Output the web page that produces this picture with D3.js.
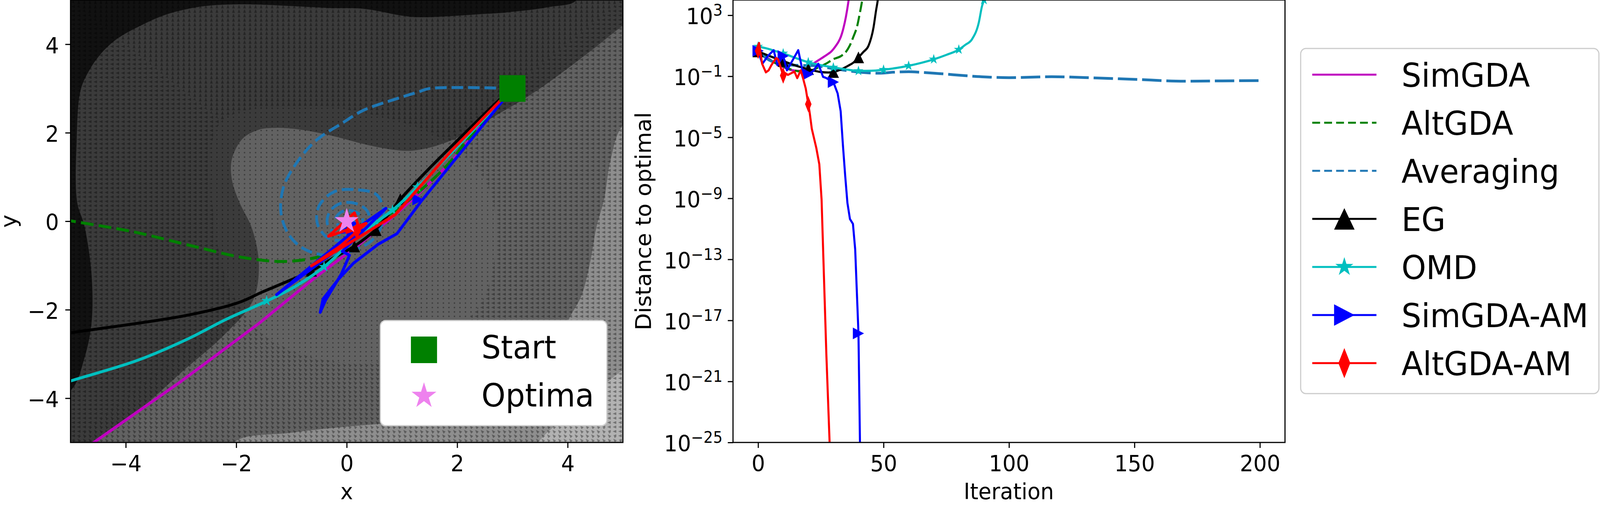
<!DOCTYPE html>
<html>
<head>
<meta charset="utf-8">
<script src="https://cdn.jsdelivr.net/npm/d3@7/dist/d3.min.js"></script>
<style>
  html, body { margin: 0; padding: 0; background: #fff; overflow: hidden; }
  #chart svg { display: block; width: 100vw; height: 100vh; }
  svg text { font-family: "DejaVu Sans", sans-serif; }
</style>
</head>
<body>
<div id="chart"></div>
<script>
// ---------- left panel: shaded contour zones (x, y)
const darkZone = [[-5.6,5.6],[4.2,5.6],[4.16,5],[3.66,4.84],[2.9,4.72],[2.41,4.68],[1.78,4.63],[1.16,4.62],[0.32,4.8],[-0.33,4.82],[-1.44,4.89],[-2.04,4.9],[-2.65,4.85],[-3.25,4.68],[-3.7,4.44],[-4.16,4.12],[-4.46,3.77],[-4.67,3.39],[-4.82,2.95],[-4.89,1.78],[-4.88,0.43],[-4.75,-0.1],[-4.62,-1.2],[-4.62,-2.3],[-4.75,-3.1],[-4.98,-3.8],[-5.6,-4.2]];
const midZone = [[-4.75,-5.6],[-4.52,-5],[-3.6,-4.1],[-2.97,-3.39],[-2.22,-2.57],[-1.7,-1.8],[-1.59,-0.99],[-1.71,-0.18],[-1.95,0.45],[-2.08,0.95],[-2.08,1.4],[-1.89,1.86],[-1.59,2.07],[-1.29,2.11],[-0.84,2.07],[-0.33,1.95],[0.36,1.73],[0.88,1.61],[1.22,1.6],[1.66,1.72],[2.16,1.98],[2.66,2.36],[3.23,2.78],[3.66,3.14],[4.41,3.84],[5,4.42],[5.6,4.9],[5.6,-5.6]];
const lightZone = [[-2.1,-5.6],[-2.03,-5],[-1,-4.78],[0.32,-4.61],[1.5,-4.52],[2.51,-4.46],[3.2,-4.2],[3.6,-3.5],[3.85,-2.7],[4.03,-2.19],[4.25,-1.68],[4.41,-0.91],[4.52,-0.14],[4.66,0.5],[4.78,1.4],[5,2.17],[5.6,2.6],[5.6,-5.6]];
const paleZone = [[3.3,-5.6],[3.47,-5],[4.2,-4.2],[5,-3.37],[5.6,-3.0],[5.6,-5.6]];
// where the arrows of the field shrink to dots
const calmZone = [[-2.3,2.2],[-1,2.6],[0.5,2.4],[1.8,1.8],[2.55,0.8],[2.7,-0.5],[2.45,-1.8],[1.6,-2.8],[0.2,-3.2],[-1.2,-2.8],[-2.0,-1.8],[-2.4,0]];
// field direction sectors: [polygon, arrow heading in degrees]
const fieldSectors = [
  [[[0,0],[-6.5,6.5],[6.5,6.5]], 0],
  [[[0,0],[-6.5,-6.5],[-6.5,6.5]], -90],
  [[[0,0],[6.5,6.5],[6.5,-6.5]], -90],
  [[[0,0],[-6.5,-6.5],[6.5,-6.5]], -45]
];

// ---------- left panel: trajectories (x, y)
const startPoint = [3, 3];
const optimaPoint = [0, 0];
const simgdaPath = [[3,3],[2.4,2.1],[1.88,1.32],[1.3,0.62],[0.88,0.15],[0.2,-0.55],[-0.57,-1.27],[-1.59,-2.31],[-3.0,-3.62],[-4.58,-5.0],[-5.6,-5.9]];
const altgdaPath = [[3,3],[2.19,1.85],[1.86,1.32],[1.2,0.55],[0.6,0.0],[0.1,-0.45],[-0.3,-0.7],[-0.56,-0.82],[-1.15,-0.91],[-1.88,-0.82],[-2.76,-0.57],[-3.86,-0.24],[-5.0,0.01],[-5.6,0.15]];
const avgPath = [[3,3],[1.5,3.0],[1.29,2.92],[0.88,2.76],[0.29,2.5],[-0.09,2.21],[-0.57,1.81],[-0.95,1.24],[-1.15,0.75],[-1.19,0.19],[-1.05,-0.3],[-0.78,-0.62],[-0.36,-0.77],[0.12,-0.66],[0.5,-0.38],[0.67,0.11],[0.55,0.59],[0.19,0.71],[-0.22,0.67],[-0.5,0.35],[-0.53,-0.06],[-0.33,-0.38],[0.02,-0.42],[0.36,-0.22],[0.39,0.19],[0.19,0.39],[-0.09,0.41],[-0.3,0.23],[-0.35,-0.06],[-0.19,-0.28],[0.05,-0.32],[0.26,-0.18],[0.28,0.08],[0.14,0.22],[-0.08,0.22],[-0.2,0.06],[-0.13,-0.12],[0.03,-0.16],[0.14,-0.04],[0.07,0.08],[-0.03,0.06],[0,0]];
const egPath = [[3,3],[2.76,2.74],[2.09,1.93],[1.5,1.2],[0.98,0.51],[0.53,-0.18],[0.13,-0.57],[-0.2,-0.8],[-0.64,-1.12],[-1.15,-1.4],[-1.53,-1.6],[-1.96,-1.84],[-2.91,-2.13],[-5.0,-2.52],[-6,-2.7]];
const omdPath = [[3,3],[2.22,1.97],[1.28,0.77],[0.83,0.25],[0.535,-0.02],[0.1,-0.45],[-0.41,-1.03],[-0.9,-1.45],[-1.44,-1.8],[-2.17,-2.21],[-2.91,-2.68],[-3.8,-3.15],[-5.0,-3.61],[-6,-4.0]];
const simamPath = [[3,3],[2.81,2.7],[1.36,0.47],[0.91,-0.28],[0.57,-0.52],[0.12,-0.95],[-0.15,-1.31],[-0.43,-1.76],[-0.48,-2.06],[-0.38,-1.78],[-0.1,-1.2],[0.05,-0.77],[-0.08,-0.68],[0.71,0.29],[0.2,-0.15],[-1.27,-1.66],[-0.5,-0.95],[0.3,-0.2],[-0.1,-0.25],[0.15,-0.05],[0,0]];
const altamPath = [[3,3],[2.76,2.7],[1.9,1.6],[0.88,0.15],[0.3,-0.3],[-0.64,-1.01],[-0.1,-0.55],[0.35,-0.05],[-0.33,-0.34],[0.14,0.19],[0.22,-0.15],[0.0,-0.25],[0.08,0.02],[0,0]];
const egMarks = [[0.97,0.5],[0.53,-0.2],[0.14,-0.57],[-0.64,-1.12]];
const omdMarks = [[1.28,0.77],[0.83,0.25],[0.535,-0.02],[-0.41,-1.03],[-1.45,-1.8]];
const simamMarks = [[1.29,0.49],[0.1,-0.3]];
const altamMarks = [[0.18,-0.22]];

// ---------- right panel: [iteration, log10(distance to optimal)]
const simgdaHist = [[0,0.63],[3,0.3],[6,-0.05],[10,-0.4],[13,-0.58],[17,-0.65],[20,-0.45],[22,-0.18],[25,0.15],[28,0.48],[29,0.6],[30,0.78],[31,1.0],[32,1.25],[33,1.6],[34,2.15],[35,2.9],[36,3.9],[37,5.2]];
const altgdaHist = [[0,0.63],[3,0.3],[6,-0.05],[10,-0.35],[14,-0.6],[18,-0.7],[21,-0.62],[24,-0.42],[27,-0.18],[30,0.12],[33,0.32],[35,0.6],[36.5,1.0],[38,1.6],[39.5,2.3],[40.5,3.1],[41.5,4.0],[42.5,5.2]];
const avgHist = [[0,0.63],[2,0.35],[4,0.1],[7,-0.1],[10,-0.2],[15,-0.28],[22,-0.3],[30,-0.5],[41,-0.74],[48,-0.8],[55,-0.72],[60,-0.7],[65,-0.74],[72,-0.82],[86,-1.0],[100,-1.09],[117,-1.03],[135,-1.11],[150,-1.2],[170,-1.32],[185,-1.3],[200,-1.28]];
const egHist = [[0,0.63],[5,0.3],[10,0.0],[15,-0.3],[20,-0.53],[25,-0.72],[28,-0.75],[30,-0.72],[33,-0.55],[36,-0.3],[38,-0.1],[40,0.24],[42,0.6],[44,1.0],[46,2.2],[47,3.3],[47.7,4.0],[48.5,5.2]];
const omdHist = [[0,0.95],[4,0.8],[7,0.65],[10,0.5],[15,0.2],[20,-0.08],[25,-0.27],[30,-0.42],[35,-0.55],[40,-0.65],[45,-0.64],[50,-0.57],[55,-0.46],[60,-0.31],[65,-0.12],[70,0.11],[75,0.4],[80,0.75],[82.5,1.05],[85.3,1.44],[88,2.55],[89.2,3.57],[90,4.0],[91,5]];
const simamHist = [[0,0.67],[1.7,-0.18],[4,0.35],[6.2,0.71],[7.7,-0.27],[10,0.33],[11.5,-0.61],[16,0.71],[17.9,-0.78],[20,-0.87],[22,-0.65],[24,-0.18],[25.9,-1.04],[27,-1.1],[30,-1.38],[31.7,-2.12],[32.9,-3.28],[33.8,-5.5],[34.7,-7.5],[35.6,-9.3],[36.6,-10.35],[37.8,-10.67],[38.7,-12.36],[40,-17.85],[40.6,-25],[41,-27]];
const altamHist = [[0,0.67],[0.4,1.18],[1.6,-0.18],[3.1,-0.74],[4.2,-0.61],[5.3,-0.27],[7.2,0.2],[8,0.11],[10,-0.95],[10.7,-0.78],[11.9,-0.91],[13.4,-0.78],[14.5,-0.7],[15.6,-1.12],[17,-0.61],[17.9,-1.12],[19,-1.81],[20,-2.83],[20.6,-3.43],[21.4,-4.44],[23.2,-5.7],[24.4,-6.77],[25.3,-9.08],[26.2,-13.9],[27.2,-19.2],[28.5,-25],[29,-27]];

// ---------- ticks and labels
const leftTicks = [-4, -2, 0, 2, 4];
const iterTicks = [0, 50, 100, 150, 200];
const expTicks = [3, -1, -5, -9, -13, -17, -21, -25];
const methodNames = ["SimGDA", "AltGDA", "Averaging", "EG", "OMD", "SimGDA-AM", "AltGDA-AM"];
const pointNames = ["Start", "Optima"];

const W = 4287, H = 1292;
// the drawing is laid out in 4287x1292 units and stretched to the window
const svg = d3.select("#chart").append("svg")
  .attr("viewBox", `0 0 ${W} ${H}`)
  .attr("preserveAspectRatio", "none")
  .style("background", "#fff");

const defs = svg.append("defs");

// scales
const xL = d3.scaleLinear().domain([-5, 5]).range([189, 1669]);
const yL = d3.scaleLinear().domain([-5, 5]).range([1132, 0]);
const xR = d3.scaleLinear().domain([-10, 210]).range([1964, 3443]);
const yR = d3.scaleLog().domain([1e-25, 1e4]).range([1132, 0]);

defs.append("clipPath").attr("id", "clipL").append("rect")
  .attr("x", 189).attr("y", 0).attr("width", 1480).attr("height", 1132);
defs.append("clipPath").attr("id", "clipR").append("rect")
  .attr("x", 1964).attr("y", 0).attr("width", 1479).attr("height", 1132);

const zoneLine = d3.line().x(d => xL(d[0])).y(d => yL(d[1])).curve(d3.curveCatmullRomClosed.alpha(0.5));
const polyLine = d3.line().x(d => xL(d[0])).y(d => yL(d[1]));

// quiver-like texture: one arrow per grid cell, heading set per sector
function arrowPattern(id, heading) {
  const p = defs.append("pattern").attr("id", id)
    .attr("patternUnits", "userSpaceOnUse")
    .attr("x", 189).attr("y", 0).attr("width", 14.8).attr("height", 11.32);
  p.append("path").attr("d", "M0,-5.2L-3.8,4.4L3.8,4.4Z")
    .attr("transform", `translate(7.4,5.66) rotate(${heading})`)
    .attr("fill", "#000").attr("fill-opacity", 0.36);
}
fieldSectors.forEach((s, i) => arrowPattern("quiver" + i, s[1]));
const dots = defs.append("pattern").attr("id", "dots")
  .attr("patternUnits", "userSpaceOnUse")
  .attr("x", 189).attr("y", 0).attr("width", 14.8).attr("height", 11.32);
dots.append("circle").attr("cx", 7.4).attr("cy", 5.66).attr("r", 1.9)
  .attr("fill", "#000").attr("fill-opacity", 0.42);

const calmOut = defs.append("mask").attr("id", "calmOut").attr("maskUnits", "userSpaceOnUse")
  .attr("x", 0).attr("y", 0).attr("width", W).attr("height", H);
calmOut.append("rect").attr("width", W).attr("height", H).attr("fill", "#fff");
calmOut.append("path").attr("d", zoneLine(calmZone)).attr("fill", "#000");
const calmIn = defs.append("mask").attr("id", "calmIn").attr("maskUnits", "userSpaceOnUse")
  .attr("x", 0).attr("y", 0).attr("width", W).attr("height", H);
calmIn.append("path").attr("d", zoneLine(calmZone)).attr("fill", "#fff");

// marker shapes
function starPath(R) {
  const r = R * 0.381966, p = [];
  for (let i = 0; i < 10; i++) {
    const a = -Math.PI / 2 + i * Math.PI / 5, rad = i % 2 ? r : R;
    p.push([rad * Math.cos(a), rad * Math.sin(a)]);
  }
  return "M" + p.join("L") + "Z";
}
const triUp = s => `M0,${-s/2}L${-s/2},${s/2}L${s/2},${s/2}Z`;
const triRight = s => `M${s/2},0L${-s/2},${-s/2}L${-s/2},${s/2}Z`;
const thinDiamond = (w, h) => `M0,${-h/2}L${w/2},0L0,${h/2}L${-w/2},0Z`;

// ================= LEFT PANEL =================
const left = svg.append("g");
const plotL = left.append("g").attr("clip-path", "url(#clipL)");

plotL.append("rect").attr("x", 189).attr("y", 0).attr("width", 1480).attr("height", 1132)
  .attr("fill", "#3b3b3b");
[[darkZone, "#111111"], [midZone, "#626262"], [lightZone, "#8e8e8e"], [paleZone, "#b2b2b2"]]
  .forEach(([zone, col]) => plotL.append("path").attr("d", zoneLine(zone)).attr("fill", col));

const arrows = plotL.append("g").attr("mask", "url(#calmOut)");
fieldSectors.forEach((s, i) => {
  arrows.append("path").attr("d", polyLine(s[0]) + "Z").attr("fill", `url(#quiver${i})`);
});
plotL.append("rect").attr("x", 189).attr("y", 0).attr("width", 1480).attr("height", 1132)
  .attr("fill", "url(#dots)").attr("mask", "url(#calmIn)");

const smoothL = d3.line().x(d => xL(d[0])).y(d => yL(d[1])).curve(d3.curveCatmullRom.alpha(0.5));
const sharpL = d3.line().x(d => xL(d[0])).y(d => yL(d[1]));
const lwL = 7.5;

plotL.append("path").attr("d", sharpL(simgdaPath)).attr("fill", "none")
  .attr("stroke", "#bf00bf").attr("stroke-width", lwL).attr("stroke-linejoin", "round");
plotL.append("path").attr("d", smoothL(altgdaPath)).attr("fill", "none")
  .attr("stroke", "#008000").attr("stroke-width", lwL).attr("stroke-dasharray", "34,14");
plotL.append("path").attr("d", smoothL(avgPath)).attr("fill", "none")
  .attr("stroke", "#1f77b4").attr("stroke-width", lwL).attr("stroke-dasharray", "31,13");
plotL.append("path").attr("d", smoothL(egPath)).attr("fill", "none")
  .attr("stroke", "#000").attr("stroke-width", lwL).attr("stroke-linejoin", "round");
plotL.selectAll(".egm").data(egMarks).join("path")
  .attr("transform", d => `translate(${xL(d[0])},${yL(d[1])})`).attr("d", triUp(30)).attr("fill", "#000");
plotL.append("path").attr("d", smoothL(omdPath)).attr("fill", "none")
  .attr("stroke", "#00bfbf").attr("stroke-width", lwL).attr("stroke-linejoin", "round");
plotL.selectAll(".omdm").data(omdMarks).join("path")
  .attr("transform", d => `translate(${xL(d[0])},${yL(d[1])})`).attr("d", starPath(15)).attr("fill", "#00bfbf");
plotL.append("path").attr("d", sharpL(simamPath)).attr("fill", "none")
  .attr("stroke", "#0000ff").attr("stroke-width", lwL).attr("stroke-linejoin", "round");
plotL.selectAll(".simm").data(simamMarks).join("path")
  .attr("transform", d => `translate(${xL(d[0])},${yL(d[1])})`).attr("d", triRight(30)).attr("fill", "#0000ff");
plotL.append("path").attr("d", sharpL(altamPath)).attr("fill", "none")
  .attr("stroke", "#ff0000").attr("stroke-width", lwL).attr("stroke-linejoin", "round");
plotL.selectAll(".altm").data(altamMarks).join("path")
  .attr("transform", d => `translate(${xL(d[0])},${yL(d[1])})`).attr("d", thinDiamond(24, 40)).attr("fill", "#ff0000");

// start and optimum
plotL.append("rect")
  .attr("x", xL(startPoint[0]) - 35).attr("y", yL(startPoint[1]) - 34)
  .attr("width", 70).attr("height", 68).attr("fill", "#008000");
plotL.append("path").attr("transform", `translate(${xL(optimaPoint[0])},${yL(optimaPoint[1])})`)
  .attr("d", starPath(34)).attr("fill", "#ee82ee");

// axes
const fmtNum = d => (d < 0 ? "\u2212" : "") + Math.abs(d);
function styleAxis(g) {
  g.attr("font-size", 57).attr("font-family", "DejaVu Sans, sans-serif");
  g.select(".domain").remove();
  g.selectAll(".tick line").attr("stroke", "#000").attr("stroke-width", 3);
  g.selectAll(".tick text").attr("fill", "#000");
}
left.append("g").attr("transform", "translate(0,1132)")
  .call(d3.axisBottom(xL).tickValues(leftTicks).tickSize(14).tickPadding(20).tickFormat(fmtNum))
  .call(styleAxis);
left.append("g").attr("transform", "translate(189,0)")
  .call(d3.axisLeft(yL).tickValues(leftTicks).tickSize(14).tickPadding(17).tickFormat(fmtNum))
  .call(styleAxis)
  .selectAll(".tick text").attr("dy", "0.40em");
left.append("rect").attr("x", 189).attr("y", 0).attr("width", 1480).attr("height", 1132)
  .attr("fill", "none").attr("stroke", "#000").attr("stroke-width", 3);

left.append("text").attr("x", 929).attr("y", 1277).attr("text-anchor", "middle")
  .attr("font-size", 57).text("x");
left.append("text").attr("transform", "translate(43,566) rotate(-90)")
  .attr("text-anchor", "middle").attr("font-size", 57).text("y");

// legend (Start / Optima)
const legL = left.append("g");
legL.append("rect").attr("x", 1019).attr("y", 820).attr("width", 607).attr("height", 269)
  .attr("rx", 14).attr("fill", "#fff").attr("stroke", "#cccccc").attr("stroke-width", 3);
legL.append("rect").attr("x", 1101).attr("y", 861).attr("width", 70).attr("height", 68).attr("fill", "#008000");
legL.append("path").attr("transform", "translate(1136,1013)").attr("d", starPath(35)).attr("fill", "#ee82ee");
legL.selectAll(".lt").data(pointNames).join("text")
  .attr("x", 1290).attr("y", (d, i) => 917 + i * 123).attr("font-size", 82).text(d => d);

// ================= RIGHT PANEL =================
const right = svg.append("g");
const plotR = right.append("g").attr("clip-path", "url(#clipR)");
const lwR = 5.5;
const toPt = d => [xR(d[0]), yR(Math.pow(10, d[1]))];
const smoothR = d3.line().x(d => toPt(d)[0]).y(d => toPt(d)[1]).curve(d3.curveMonotoneX);
const sharpR = d3.line().x(d => toPt(d)[0]).y(d => toPt(d)[1]);

const series = [
  { data: simgdaHist, color: "#bf00bf", line: smoothR, dash: null, lw: lwR, marker: null },
  { data: altgdaHist, color: "#008000", line: smoothR, dash: "27,10", lw: lwR, marker: null },
  { data: avgHist, color: "#1f77b4", line: smoothR, dash: "52,13", lw: 7, marker: null },
  { data: egHist, color: "#000000", line: smoothR, dash: null, lw: lwR, marker: s => triUp(s) },
  { data: omdHist, color: "#00bfbf", line: smoothR, dash: null, lw: lwR, marker: s => starPath(s * 0.46) },
  { data: simamHist, color: "#0000ff", line: sharpR, dash: null, lw: lwR, marker: s => triRight(s) },
  { data: altamHist, color: "#ff0000", line: sharpR, dash: null, lw: lwR, marker: s => thinDiamond(s * 0.58, s * 1.4) }
];

series.forEach(s => {
  plotR.append("path").attr("d", s.line(s.data)).attr("fill", "none")
    .attr("stroke", s.color).attr("stroke-width", s.lw).attr("stroke-linejoin", "round")
    .attr("stroke-dasharray", s.dash);
  if (s.marker) {
    plotR.selectAll(null).data(s.data.filter(d => d[0] % 10 === 0)).join("path")
      .attr("transform", d => `translate(${toPt(d)[0]},${toPt(d)[1]})`)
      .attr("d", s.marker(30)).attr("fill", s.color);
  }
});

right.append("g").attr("transform", "translate(0,1132)")
  .call(d3.axisBottom(xR).tickValues(iterTicks).tickSize(14).tickPadding(20).tickFormat(d3.format("d")))
  .call(styleAxis);
right.append("g").attr("transform", "translate(1964,0)")
  .call(d3.axisLeft(yR).tickValues(expTicks.map(e => Math.pow(10, e))).tickSize(14).tickPadding(14))
  .call(styleAxis)
  .selectAll(".tick text").attr("dy", "0.40em").each(function (d) {
    const e = Math.round(Math.log10(d));
    const t = d3.select(this).text(null);
    t.append("tspan").text("10");
    t.append("tspan").attr("dy", -22).attr("font-size", 40).text(e < 0 ? "\u2212" + (-e) : String(e));
  });
right.append("rect").attr("x", 1964).attr("y", 0).attr("width", 1479).attr("height", 1132)
  .attr("fill", "none").attr("stroke", "#000").attr("stroke-width", 3);

right.append("text").attr("x", 2703).attr("y", 1277).attr("text-anchor", "middle")
  .attr("font-size", 57).text("Iteration");
right.append("text").attr("transform", "translate(1744,566) rotate(-90)")
  .attr("text-anchor", "middle").attr("font-size", 57).text("Distance to optimal");

// legend (methods)
const legR = svg.append("g");
legR.append("rect").attr("x", 3485).attr("y", 124).attr("width", 799).attr("height", 883)
  .attr("rx", 14).attr("fill", "#fff").attr("stroke", "#cccccc").attr("stroke-width", 3);
const legDash = [null, "21,11", "21,11", null, null, null, null];
series.forEach((s, i) => {
  const yy = 191 + i * 123;
  legR.append("line").attr("x1", 3516).attr("x2", 3688).attr("y1", yy).attr("y2", yy)
    .attr("stroke", s.color).attr("stroke-width", 5).attr("stroke-dasharray", legDash[i]);
  if (s.marker) {
    legR.append("path").attr("transform", `translate(3602,${yy})`)
      .attr("d", s.marker(55)).attr("fill", s.color);
  }
  legR.append("text").attr("x", 3755).attr("y", yy + 31).attr("font-size", 84).text(methodNames[i]);
});
</script>
</body>
</html>
